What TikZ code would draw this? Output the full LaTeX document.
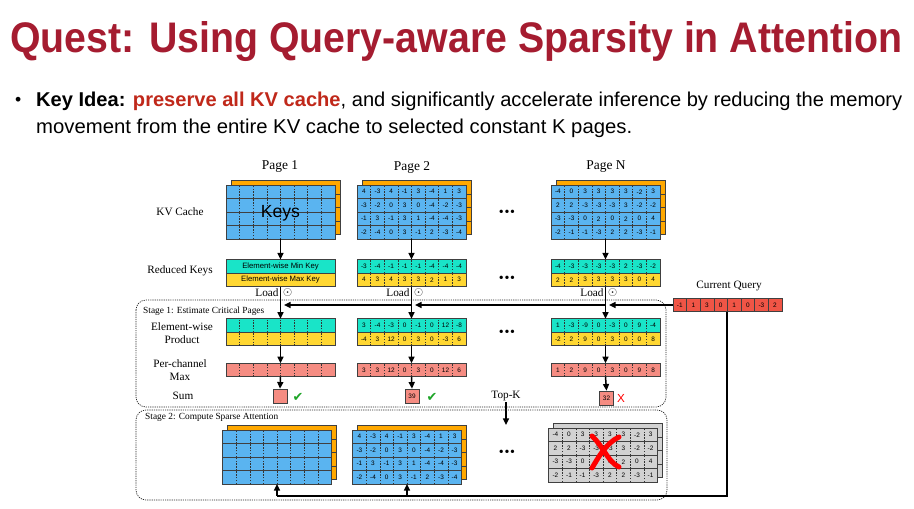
\documentclass[tikz,border=0pt]{standalone}
\usepackage{fontspec}
\setmainfont{Liberation Serif}
\setsansfont{Liberation Sans}
\newfontfamily\symfont{DejaVu Sans}
\usepackage{graphicx}
\usetikzlibrary{arrows.meta,positioning,calc}

\newdimen\px \px=0.3mm
\def\cw{13.6}
\def\rh{13.5}

\definecolor{titlered}{RGB}{165,28,48}
\definecolor{hlred}{RGB}{192,40,26}
\definecolor{kvblue}{RGB}{90,180,240}
\definecolor{kvorange}{RGB}{255,168,0}
\definecolor{minteal}{RGB}{25,228,200}
\definecolor{maxyellow}{RGB}{255,215,50}
\definecolor{salmon}{RGB}{245,140,130}
\definecolor{queryred}{RGB}{240,85,70}
\definecolor{evicted}{RGB}{210,210,210}
\definecolor{okgreen}{RGB}{30,165,40}

\tikzset{
  vecrow/.style={draw=black!75, line width=0.5pt, minimum width=108.8\px, minimum height=13.5\px, inner sep=0pt, outer sep=0pt},
  numtxt/.style={font=\sffamily\fontsize{5.5}{5.5}\selectfont, inner sep=0pt},
  celldiv/.style={draw=black!80, line width=0.4pt, dash pattern=on 1.2pt off 1.2pt},
  cellsolid/.style={draw=black!75, line width=0.5pt},
  lbl/.style={font=\fontsize{9.6}{10.5}\selectfont, align=center, inner sep=1pt},
  pagelbl/.style={font=\fontsize{11.5}{12}\selectfont},
  keystxt/.style={font=\sffamily\fontsize{15}{15}\selectfont, inner sep=0pt},
  redtxt/.style={font=\sffamily\fontsize{6.6}{7}\selectfont},
  stagebox/.style={draw=black!85, line width=0.6pt, dash pattern=on 1pt off 0.9pt, rounded corners=3mm},
  stagelbl/.style={font=\fontsize{8}{9}\selectfont, anchor=west, inner sep=0pt},
  flow/.style={-{Triangle[length=2mm,width=1.8mm]}, line width=0.45mm},
  fetch/.style={line width=0.6mm},
  sumbox/.style={draw=black!75, line width=0.5pt, fill=salmon, minimum size=14\px, inner sep=0pt, font=\sffamily\fontsize{5.5}{5.5}\selectfont},
  okmark/.style={font=\symfont\fontsize{11}{11}\selectfont, text=okgreen, inner sep=0pt},
  badmark/.style={font=\sffamily\fontsize{10}{10}\selectfont, text=red, inner sep=0pt},
  crossmark/.style={draw=red, line width=1.5mm, line cap=round},
  dotsrow/.style={font=\fontsize{12}{12}\selectfont, inner sep=0pt},
  titletxt/.style={anchor=base west, inner sep=0pt, font=\sffamily\bfseries, text=titlered},
  bodytxt/.style={anchor=base west, inner sep=0pt, font=\sffamily\fontsize{15}{15}\selectfont}
}

% one row of eight cells: [divider style]{name}{x,y}{fill}{values}
\newcommand{\cellrow}[5][celldiv]{%
  \node[vecrow, fill=#4] (#2) at (#3) {};
  \foreach \v [count=\i] in {#5}
    \node[numtxt] (#2-\i) at ($(#2.west)+({(\i-0.5)*\cw},0)$) {\v};
  \foreach \i in {1,...,7}
    \draw[#1] ($(#2.south west)+(\i*\cw,0)$) -- ($(#2.north west)+(\i*\cw,0)$);
}
% the stacked page behind a block: {name}{x,y of top row}{fill}
\newcommand{\backrows}[3]{%
  \foreach \r in {0,...,3}
    \node[vecrow, fill=#3] (#1b\r) at ($(#2)+(5,{\r*\rh-4.5})$) {};
}
\newcommand{\threedots}{\textbullet\kern0.6pt\textbullet\kern0.6pt\textbullet}

\begin{document}
\begin{tikzpicture}[x=0.3mm, y=-0.3mm]
  \useasboundingbox[fill=white] (0,0) rectangle (914,508);

  % heading
  \node[titletxt] (title) at (10,52) {\resizebox{267.6mm}{9.3mm}{Quest: Using Query-aware Sparsity in Attention}};
  \node[bodytxt] (bullet) at (15,105) {\textbullet};
  \node[bodytxt] (idea1) at (36,106) {\resizebox{259.8mm}{4.35mm}{\textbf{Key Idea:} \textcolor{hlred}{\textbf{preserve all KV cache}}, and significantly accelerate inference by reducing the memory}};
  \node[bodytxt] (idea2) at (36,133) {\resizebox{178.8mm}{4.35mm}{movement from the entire KV cache to selected constant K pages.}};

  % KV cache pages
  \node[pagelbl] (t1) at (280,167) {Page 1};
  \node[pagelbl] (t2) at (412,167) {Page 2};
  \node[pagelbl] (tN) at (606,167) {Page N};
  \node[lbl] (kvlbl) at (180,212) {KV Cache};
  \node[lbl] (redlbl) at (180,271) {Reduced Keys};

  \backrows{p1}{280.5,191.75}{kvorange}
  \cellrow{p1r1}{280.5,191.75}{kvblue}{}
  \cellrow{p1r2}{280.5,205.25}{kvblue}{}
  \cellrow{p1r3}{280.5,218.75}{kvblue}{}
  \cellrow{p1r4}{280.5,232.25}{kvblue}{}
  \node[keystxt] (keys) at ($(p1r2.south)+(0,1)$) {Keys};

  \backrows{p2}{411.5,191.75}{kvorange}
  \cellrow{p2r1}{411.5,191.75}{kvblue}{4,-3,4,-1,3,-4,1,3}
  \cellrow{p2r2}{411.5,205.25}{kvblue}{-3,-2,0,3,0,-4,-2,-3}
  \cellrow{p2r3}{411.5,218.75}{kvblue}{-1,3,-1,3,1,-4,-4,-3}
  \cellrow{p2r4}{411.5,232.25}{kvblue}{-2,-4,0,3,-1,2,-3,-4}

  \backrows{pN}{605.5,191.75}{kvorange}
  \cellrow{pNr1}{605.5,191.75}{kvblue}{-4,0,3,3,3,3,-2,3}
  \cellrow{pNr2}{605.5,205.25}{kvblue}{2,2,-3,-3,-3,3,-2,-2}
  \cellrow{pNr3}{605.5,218.75}{kvblue}{-3,-3,0,2,0,2,0,4}
  \cellrow{pNr4}{605.5,232.25}{kvblue}{-2,-1,-1,-3,2,2,-3,-1}
  \node[dotsrow] (d1) at (507,213) {\threedots};

  % reduced keys
  \node[vecrow, fill=minteal, redtxt] (min1) at (280.5,266.25) {Element-wise Min Key};
  \node[vecrow, fill=maxyellow, redtxt] (max1) at (280.5,279.75) {Element-wise Max Key};
  \cellrow{min2}{411.5,266.25}{minteal}{-3,-4,-1,-1,-1,-4,-4,-4}
  \cellrow{max2}{411.5,279.75}{maxyellow}{4,3,4,3,3,2,1,3}
  \cellrow{minN}{605.5,266.25}{minteal}{-4,-3,-3,-3,-3,2,-3,-2}
  \cellrow{maxN}{605.5,279.75}{maxyellow}{2,2,3,3,3,3,0,4}
  \node[dotsrow] (d2) at (507,279) {\threedots};

  \draw[flow] (p1r4.south) -- (min1.north);
  \draw[flow] (p2r4.south) -- (min2.north);
  \draw[flow] (pNr4.south) -- (minN.north);

  % stage 1
  \draw[stagebox] (136,300) rectangle (666,407);
  \node[stagelbl] (st1) at (143,311) {Stage 1: Estimate Critical Pages};
  \node[lbl] (prodlbl) at (182,333) {Element-wise\\Product};
  \node[lbl] (maxlbl) at (180,370) {Per-channel\\Max};
  \node[lbl] (sumlbl) at (183,396) {Sum};

  \cellrow{e1a}{280.5,325.5}{minteal}{}
  \cellrow{e1b}{280.5,339}{maxyellow}{}
  \cellrow{c1}{280.5,370}{salmon}{}
  \node[sumbox] (s1) at (280,396) {};
  \node[okmark] (ok1) at (298,397) {✔};

  \cellrow{e2a}{411.5,325.5}{minteal}{3,-4,-3,0,-1,0,12,-8}
  \cellrow{e2b}{411.5,339}{maxyellow}{-4,3,12,0,3,0,-3,6}
  \cellrow{c2}{411.5,370}{salmon}{3,3,12,0,3,0,12,6}
  \node[sumbox] (s2) at (412,396) {39};
  \node[okmark] (ok2) at (432,397) {✔};

  \cellrow{eNa}{605.5,325.5}{minteal}{1,-3,-9,0,-3,0,9,-4}
  \cellrow{eNb}{605.5,339}{maxyellow}{-2,2,9,0,3,0,0,8}
  \cellrow{cN}{605.5,370}{salmon}{1,2,9,0,3,0,9,8}
  \node[sumbox] (sN) at (606.5,398) {32};
  \node[badmark] (badN) at (621,398) {X};
  \node[dotsrow] (d3) at (507,333) {\threedots};

  \foreach \p in {1,2,N} {
    \draw[flow] (e\p b.south) -- (c\p.north);
    \draw[flow] (c\p.south) -- (s\p.north);
  }

  % current query
  \node[lbl] (qlbl) at (729,286) {Current Query};
  \cellrow[cellsolid]{query}{727.4,305}{queryred}{-1,1,3,0,1,0,-3,2}
  \coordinate (j1) at (max1.south |- query.west);
  \coordinate (j2) at (max2.south |- query.west);
  \coordinate (jN) at (maxN.south |- query.west);
  \draw[flow] (query.west) -- ($(jN)+(3.5,0)$);
  \draw[flow] (jN) -- ($(j2)+(3.5,0)$);
  \draw[flow] (j2) -- ($(j1)+(3.5,0)$);

  \draw[flow] (max1.south) -- node[pos=0.2, left, lbl] (ld1) {Load} node[pos=0.2, right, inner sep=1.5pt] (od1) {$\odot$} (e1a.north);
  \draw[flow] (max2.south) -- node[pos=0.2, left, lbl] (ld2) {Load} node[pos=0.2, right, inner sep=1.5pt] (od2) {$\odot$} (e2a.north);
  \draw[flow] (maxN.south) -- node[pos=0.2, left, lbl] (ldN) {Load} node[pos=0.2, right, inner sep=1.5pt] (odN) {$\odot$} (eNa.north);

  \node[lbl] (topk) at (506,396) {Top-K};
  \coordinate (sel) at (506,425);
  \draw[flow] (topk.south) -- (sel);

  % stage 2
  \draw[stagebox] (136,410) rectangle (667,500);
  \node[stagelbl] (st2) at (145,417) {Stage 2: Compute Sparse Attention};

  \backrows{a1}{277,436.75}{kvorange}
  \cellrow{a1r1}{277,436.75}{kvblue}{}
  \cellrow{a1r2}{277,450.25}{kvblue}{}
  \cellrow{a1r3}{277,463.75}{kvblue}{}
  \cellrow{a1r4}{277,477.25}{kvblue}{}

  \backrows{a2}{407,436.75}{kvorange}
  \cellrow{a2r1}{407,436.75}{kvblue}{4,-3,4,-1,3,-4,1,3}
  \cellrow{a2r2}{407,450.25}{kvblue}{-3,-2,0,3,0,-4,-2,-3}
  \cellrow{a2r3}{407,463.75}{kvblue}{-1,3,-1,3,1,-4,-4,-3}
  \cellrow{a2r4}{407,477.25}{kvblue}{-2,-4,0,3,-1,2,-3,-4}
  \node[dotsrow] (d4) at (507,453) {\threedots};

  \backrows{aN}{603,434.75}{evicted}
  \cellrow{aNr1}{603,434.75}{evicted}{-4,0,3,3,3,3,-2,3}
  \cellrow{aNr2}{603,448.25}{evicted}{2,2,-3,-3,-3,3,-2,-2}
  \cellrow{aNr3}{603,461.75}{evicted}{-3,-3,0,2,0,2,0,4}
  \cellrow{aNr4}{603,475.25}{evicted}{-2,-1,-1,-3,2,2,-3,-1}
  \draw[crossmark] (592,436) .. controls (603,446) and (608,462) .. (619,467);
  \draw[crossmark] (619,437) .. controls (606,443) and (598,458) .. (592,468);

  % query feeds the selected pages
  \coordinate (qturn) at (query.south |- 0,496);
  \coordinate (in1) at (a1r4.south |- qturn);
  \coordinate (in2) at (a2r4.south |- qturn);
  \draw[fetch] (query.south) -- (qturn) -- (in1);
  \draw[flow] (in1) -- (a1r4.south);
  \draw[flow] (in2) -- (a2r4.south);
\end{tikzpicture}
\end{document}
